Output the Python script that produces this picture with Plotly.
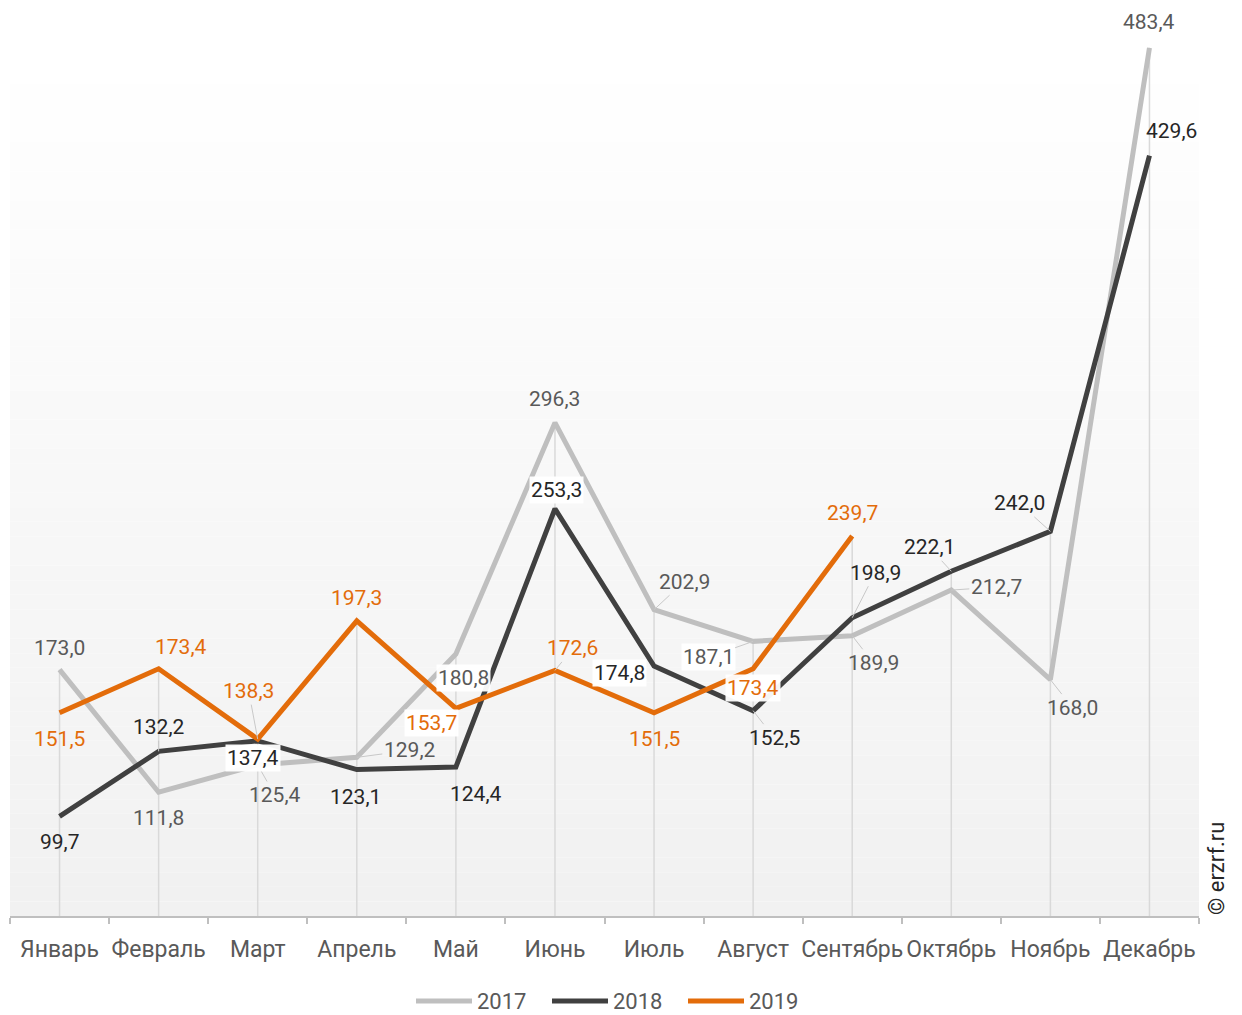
import plotly.graph_objects as go

# Monthly values, three years
months = ["Январь", "Февраль", "Март", "Апрель", "Май", "Июнь",
          "Июль", "Август", "Сентябрь", "Октябрь", "Ноябрь", "Декабрь"]
v2017 = [173.0, 111.8, 125.4, 129.2, 180.8, 296.3, 202.9, 187.1, 189.9, 212.7, 168.0, 483.4]
v2018 = [99.7, 132.2, 137.4, 123.1, 124.4, 253.3, 174.8, 152.5, 198.9, 222.1, 242.0, 429.6]
v2019 = [151.5, 173.4, 138.3, 197.3, 153.7, 172.6, 151.5, 173.4, 239.7]

Y_MIN, Y_MAX = 50, 487.3

# Series styling: name, values, line colour, label colour
series = [
    ("2017", v2017, "#bfbfbf", "#595959"),
    ("2018", v2018, "#404040", "#262626"),
    ("2019", v2019, "#e36c0a", "#e36c0a"),
]

# Label placement per point: (dx, dy, leader line, white box)
label_pos = {
    "2017": [(0, -22, 0, 0), (0, 26, 0, 0), (17, 30, 1, 0), (53, -7, 1, 0),
             (8, 24, 0, 1), (0, -24, 0, 0), (30, -28, 1, 0), (-45, 16, 1, 1),
             (21, 27, 1, 0), (45, -3, 1, 0), (22, 28, 1, 0), (0, -26, 0, 0)],
    "2018": [(0, 26, 0, 0), (0, -24, 1, 0), (-5, 17, 0, 1), (-1, 27, 0, 0),
             (20, 27, 0, 0), (2, -19, 0, 1), (-35, 7, 0, 1), (21, 27, 1, 0),
             (23, -45, 1, 0), (-22, -24, 1, 0), (-31, -28, 1, 0), (22, -25, 0, 0)],
    "2019": [(0, 26, 0, 0), (22, -22, 0, 0), (-9, -48, 1, 0), (0, -23, 0, 0),
             (-24, 15, 0, 1), (18, -22, 1, 0), (0, 26, 0, 0), (0, 19, 0, 1),
             (0, -23, 0, 0)],
}

FONT = "Roboto, 'Open Sans', sans-serif"

# Figure geometry (pixels)
W, H = 1242, 1015
ML, MR, MT, MB = 10, 43, 40, 99
PW, PH = W - ML - MR, H - MT - MB


def px_to_paper(px, py):
    return (px - ML) / PW, (H - MB - py) / PH


fig = go.Figure()

# Drop lines from the axis up to the highest point in each month
drop_x, drop_y = [], []
for i, m in enumerate(months):
    top = max(s[1][i] for s in series if i < len(s[1]))
    drop_x += [m, m, None]
    drop_y += [Y_MIN, top, None]
fig.add_trace(go.Scatter(x=drop_x, y=drop_y, mode="lines",
                         line=dict(color="#d9d9d9", width=1.5),
                         showlegend=False, hoverinfo="skip"))

for name, vals, color, _ in series:
    fig.add_trace(go.Scatter(x=months[:len(vals)], y=vals, mode="lines", name=name,
                             line=dict(color=color, width=5), showlegend=False))

annotations = []
for name, vals, _, lcolor in series:
    for i, v in enumerate(vals):
        dx, dy, leader, box = label_pos[name][i]
        annotations.append(dict(
            x=months[i], y=v, xref="x", yref="y",
            text=f"{v:.1f}".replace(".", ","),
            showarrow=True, arrowhead=0, arrowwidth=1,
            arrowcolor="#c8c8c8" if leader else "rgba(0,0,0,0)",
            ax=dx, ay=dy, standoff=0,
            bgcolor="rgba(255,255,255,0.95)" if box else "rgba(0,0,0,0)",
            borderpad=1,
            font=dict(family=FONT, size=21, color=lcolor),
        ))

# Copyright mark on the right
wx, wy = px_to_paper(1216, 869)
annotations.append(dict(
    x=wx, y=wy, xref="paper", yref="paper", text="© erzrf.ru",
    showarrow=False, textangle=-90, xanchor="center", yanchor="middle",
    font=dict(family=FONT, size=22, color="#262626"),
))

# Vertical gradient behind the plot area
shapes = []
n_bands = 60
for k in range(n_bands):
    t = k / (n_bands - 1)          # 0 at bottom, 1 at top
    c = int(round(241 + (255 - 241) * t))
    shapes.append(dict(type="rect", xref="paper", yref="paper",
                       x0=0, x1=1, y0=k / n_bands, y1=(k + 1) / n_bands,
                       fillcolor=f"rgb({c},{c},{c})", line=dict(width=0),
                       layer="below"))

# Legend: long line samples followed by the series name
legend_x = [416, 552, 688]
for (name, _, color, _), lx in zip(series, legend_x):
    x0, y0 = px_to_paper(lx, 1001)
    x1, _ = px_to_paper(lx + 56, 1001)
    shapes.append(dict(type="line", xref="paper", yref="paper",
                       x0=x0, x1=x1, y0=y0, y1=y0,
                       line=dict(color=color, width=5)))
    tx, _ = px_to_paper(lx + 59, 1001)
    annotations.append(dict(x=tx, y=y0, xref="paper", yref="paper", text=name,
                            showarrow=False, xanchor="left", yanchor="middle",
                            font=dict(family=FONT, size=22, color="#595959")))

fig.update_layout(
    width=W, height=H,
    margin=dict(l=ML, r=MR, t=MT, b=MB, autoexpand=False),
    paper_bgcolor="white", plot_bgcolor="rgba(0,0,0,0)",
    font=dict(family=FONT, color="#595959"),
    shapes=shapes,
    annotations=annotations,
    showlegend=False,
    xaxis=dict(type="category", categoryorder="array", categoryarray=months,
               range=[-0.5, 11.5], tickson="boundaries", ticks="outside",
               ticklen=6, tickwidth=1.5, tickcolor="#bfbfbf",
               showline=True, linecolor="#bfbfbf", linewidth=1.5,
               showgrid=False, zeroline=False, tickangle=0,
               ticklabelstandoff=12,
               tickfont=dict(family=FONT, size=23, color="#595959")),
    yaxis=dict(range=[Y_MIN, Y_MAX], visible=False, showgrid=False, zeroline=False),
)

fig.write_html("out.html")
